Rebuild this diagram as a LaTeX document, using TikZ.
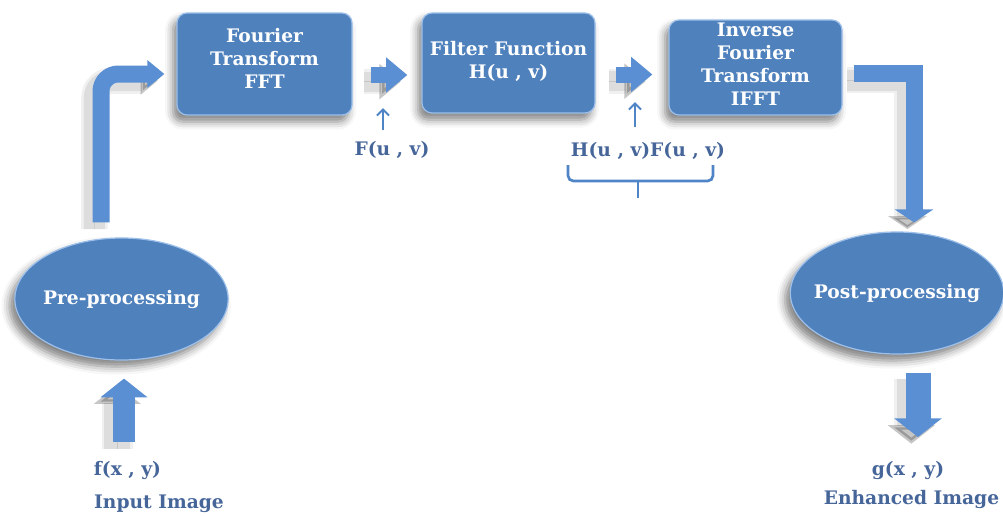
\documentclass[tikz,border=0pt]{standalone}
\usepackage{fontspec}
\setmainfont{DejaVu Serif}
\usetikzlibrary{calc,arrows.meta,shapes.geometric,shadows.blur}
\definecolor{boxfill}{HTML}{4F81BD}
\definecolor{boxedge}{HTML}{9DC0EA}
\definecolor{arrfill}{HTML}{5A8FD3}
\definecolor{lblcol}{HTML}{46669A}
\definecolor{thincol}{HTML}{4F85C6}
\begin{document}
\begin{tikzpicture}[x=0.75pt,y=-0.75pt,
  stage/.style={draw=boxedge, line width=0.9pt, fill=boxfill, rounded corners=7.5pt, inner sep=0,
    blur shadow={shadow xshift=-3pt,shadow yshift=-5pt,shadow blur radius=6pt,shadow opacity=50}},
  proc/.style={ellipse, draw=boxedge, line width=0.9pt, fill=boxfill, minimum width=160pt, minimum height=91.5pt,
    inner sep=0, inner xsep=-22pt, text=white, font=\bfseries\fontsize{14}{16}\selectfont,
    blur shadow={shadow xshift=-4pt,shadow yshift=-5pt,shadow blur radius=6pt,shadow opacity=50}},
  intext/.style={text=white, align=center, font=\bfseries\fontsize{14}{17.3}\selectfont, inner sep=0},
  lbl/.style={text=lblcol, font=\bfseries\fontsize{14}{17}\selectfont, inner sep=0},
  blockarrow/.style n args={3}{draw=arrfill, line width=#1, -{Triangle[width=#2,length=#3]},
    preaction={draw=black, opacity=.06, line width=#1+7pt, transform canvas={xshift=-5pt,yshift=-5pt}},
    preaction={draw=black, opacity=.08, line width=#1+3pt, transform canvas={xshift=-5pt,yshift=-5pt}},
    preaction={draw=black, opacity=.10, transform canvas={xshift=-5pt,yshift=-5pt}}},
  thinarrow/.style={draw=thincol, line width=1.5pt, -{Straight Barb[length=4.5pt,width=9pt]}},
  bracestyle/.style={draw=thincol, line width=2pt, rounded corners=4pt}
]
\useasboundingbox (0,0) rectangle (1003,515);

% stages
\node[stage, minimum width=131.25pt, minimum height=76.5pt] (fft) at (264.5,64) {};
\node[intext] (fftt) at ($(fft.center)+(0,-5.5)$) {Fourier\\Transform\\FFT};
\node[stage, minimum width=129.75pt, minimum height=75pt] (filt) at (508.5,63) {};
\node[intext] (filtt) at ($(filt.center)+(0,-2)$) {Filter Function\\H(u , v)};
\node[stage, minimum width=129.75pt, minimum height=71.25pt] (ifft) at (755.5,67.5) {};
\node[intext] (ifftt) at ($(ifft.center)+(0,-3.5)$) {Inverse\\Fourier\\Transform\\IFFT};

\node[proc] (pre) at (121.5,299) {Pre-processing};
\node[proc] (post) at (897,293) {Post-processing};

% labels
\node[lbl] (fuv) at (392,150) {F(u , v)};
\node[lbl] (hf) at (648,151) {H(u , v)F(u , v)};
\node[lbl] (fxy) at (127.5,470) {f(x , y)};
\node[lbl] (inimg) at (159,504) {Input Image};
\node[lbl] (gxy) at (908,470) {g(x , y)};
\node[lbl] (enh) at (911.5,499) {Enhanced Image};

% block arrows
\draw[blockarrow={12.75pt}{20pt}{12.75pt}, rounded corners=13pt]
  ($(pre.north)+(-20.5,-15)$) |- ($(fft.west)+(-12,10)$);
\draw[blockarrow={12pt}{25.5pt}{16pt}] ($(fft.east)+(18,11)$) -- ($(filt.west)+(-14,12)$);
\draw[blockarrow={12pt}{25.5pt}{16pt}] ($(filt.east)+(20,11.5)$) -- ($(ifft.west)+(-16,7)$);
\draw[blockarrow={12.75pt}{28.5pt}{9.75pt}, line join=miter]
  ($(ifft.east)+(11,6)$) -| ($(post.north)+(17,-9)$);
\coordinate (inb) at (124,442);
\draw[blockarrow={16.5pt}{34.5pt}{14pt}] (inb) -- ($(pre.south)+(2.5,18)$);
\coordinate (outb) at (918,437);
\draw[blockarrow={18.75pt}{35pt}{14pt}] ($(post.south)+(21,18)$) -- (outb);

% thin arrows
\draw[thinarrow] ($(fuv.north)+(-9,-11)$) -- ++(0,-22);
\draw[thinarrow] ($(hf.north)+(-13,-15)$) -- ++(0,-25);

% brace
\draw[bracestyle] ($(hf.center)+(-80,14)$) -- ++(0,16) -- ++(145,0) -- ++(0,-16);
\draw[bracestyle] ($(hf.center)+(-10,30)$) -- ++(0,17);
\end{tikzpicture}
\end{document}
